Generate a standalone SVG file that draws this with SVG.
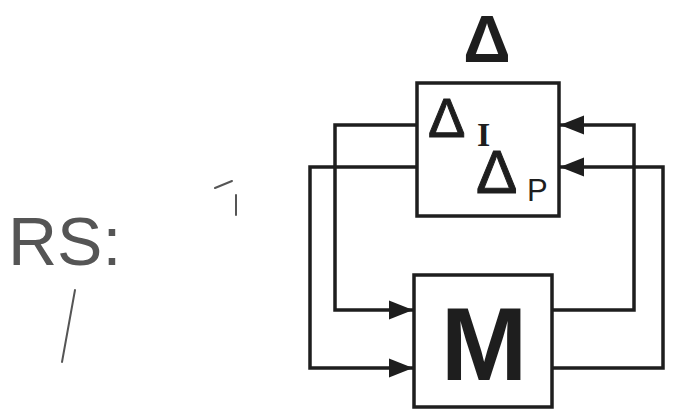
<svg xmlns="http://www.w3.org/2000/svg" width="677" height="417" viewBox="0 0 677 417">
<style>
.box{fill:#fff;stroke:#1e1e1e;stroke-width:3.5}
.ln{fill:none;stroke:#1e1e1e;stroke-width:3.5}
.t{font-family:"Liberation Sans",Arial,sans-serif;fill:#1e1e1e}
.th{stroke:#1e1e1e;stroke-width:1}
.mark{fill:none;stroke:#555;stroke-width:2;stroke-linecap:round}
</style>
<defs>
<marker id="ah" viewBox="0 0 12 9.5" refX="12" refY="4.75" markerWidth="7" markerHeight="5.5" markerUnits="strokeWidth" orient="auto">
<path d="M0,0 L12,4.75 L0,9.5 Z" fill="#1e1e1e"/>
</marker>
</defs>
<rect width="677" height="417" fill="#fff"/>
<text x="8" y="265" font-family="'Liberation Sans',Arial,sans-serif" font-size="68" fill="#555">RS:</text>
<path class="mark" d="M75,290 L62,362"/>
<path class="mark" d="M215,188 L232,181 M236,195 L236,215"/>
<g id="connectors">
<path class="ln" d="M417,125 H335 V310 H413" marker-end="url(#ah)"/>
<path class="ln" d="M417,167 H310 V368 H413" marker-end="url(#ah)"/>
<path class="ln" d="M552,310 H634 V125 H560" marker-end="url(#ah)"/>
<path class="ln" d="M552,368 H663 V167 H560" marker-end="url(#ah)"/>
</g>
<g id="delta-label">
<text class="t" x="487" y="62" font-size="66" font-weight="bold" text-anchor="middle">Δ</text>
</g>
<g id="delta-box">
<rect class="box" x="417" y="83" width="142" height="133"/>
<text class="t th" x="428" y="137" font-size="56">Δ</text>
<text x="477" y="146" font-family="'Liberation Serif','Times New Roman',serif" font-weight="bold" font-size="34" fill="#1e1e1e">I</text>
<text class="t th" x="476" y="193" font-size="62">Δ</text>
<text class="t" x="527" y="201" font-size="31">P</text>
</g>
<g id="m-box">
<rect class="box" x="414" y="275" width="138" height="132"/>
<text class="t" x="484" y="380" font-size="104" font-weight="bold" text-anchor="middle">M</text>
</g>
</svg>
